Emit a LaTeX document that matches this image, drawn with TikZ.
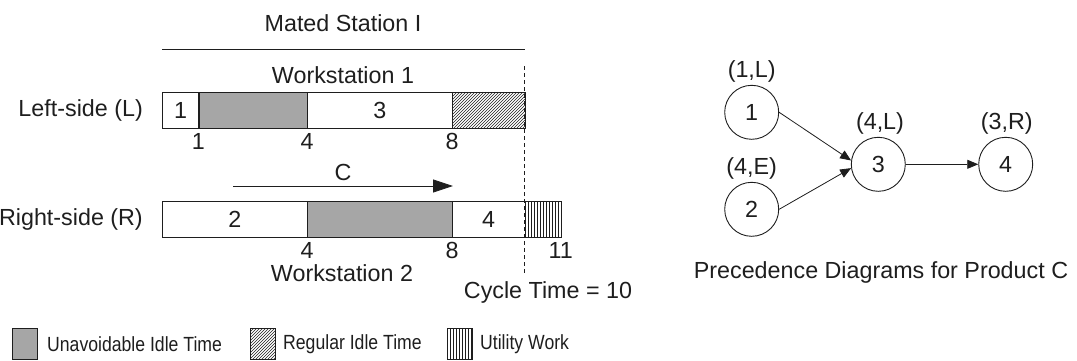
\documentclass[tikz,border=0pt]{standalone}
\usepackage{fontspec}
\setmainfont{Liberation Sans}
\newfontfamily\keyfont[FakeStretch=0.86]{Liberation Sans}
\usetikzlibrary{arrows.meta,patterns}
\definecolor{idlegray}{HTML}{A6A6A6}
\definecolor{ink}{HTML}{1E1E1E}
\begin{document}
\begin{tikzpicture}[x=1pt,y=-1pt,
  lbl/.style={inner sep=0pt, font=\fontsize{23.3}{27}\selectfont, text=ink},
  keylbl/.style={inner sep=0pt, anchor=west, font=\keyfont\fontsize{20.5}{24}\selectfont, text=ink},
  seg/.style={draw=ink, line width=0.8pt, inner sep=0pt, minimum height=36pt,
              anchor=north west, font=\fontsize{23.3}{27}\selectfont, text=ink},
  idle/.style={seg, fill=idlegray, line width=1.3pt},
  regidle/.style={seg, pattern=north east lines, pattern color=ink},
  utilwork/.style={seg, pattern=vertical lines, pattern color=ink},
  keybox/.style={draw=ink, line width=0.8pt, minimum width=25pt, minimum height=31pt,
                 inner sep=0pt, anchor=north west},
  task/.style={circle, draw=ink, line width=0.9pt, minimum size=54pt, inner sep=0pt,
               font=\fontsize{23.3}{27}\selectfont, text=ink},
  prec/.style={draw=ink, line width=0.8pt, -{Triangle[length=11pt,width=9pt]}},
]
\useasboundingbox (0,0) rectangle (1077,360);

% ---------- mated station header ----------
\node[lbl] (mated) at (343,23) {Mated Station I};
\coordinate (msL) at (162,49);
\coordinate (msR) at (524.5,49);
\draw[ink, line width=0.8pt] (msL) -- (msR);
\node[lbl] (ws1) at (343,75) {Workstation 1};

% ---------- left-side workstation ----------
\node[lbl, anchor=east] (left) at (143,110) {Left-side (L)};
\node[seg, minimum width=36.25pt] (l1) at (162,92) {1};
\node[seg, minimum width=145pt] (l3) at (307,92) {3};
\node[regidle, minimum width=72.5pt] (lreg) at (452,92) {};
\node[idle, minimum width=108.75pt] (lidle) at (198.25,92) {};
\node[lbl] (t1) at (198.25,141) {1};
\node[lbl] (t4) at (307,141) {4};
\node[lbl] (t8) at (452,141) {8};

% ---------- product flow arrow ----------
\node[lbl] (cLabel) at (343,172) {C};
\coordinate (cA) at (233,186);
\coordinate (cB) at (453,186);
\draw[ink, line width=0.8pt, -{Triangle[length=20pt,width=13pt]}] (cA) -- (cB);

% ---------- right-side workstation ----------
\node[lbl, anchor=east] (right) at (143,219) {Right-side (R)};
\node[seg, minimum width=145pt] (r2) at (162,201) {2};
\node[seg, minimum width=72.5pt] (r4) at (452,201) {4};
\node[utilwork, minimum width=36.25pt] (rutil) at (524.5,201) {};
\node[idle, minimum width=145pt] (ridle) at (307,201) {};
\node[lbl] (b4) at (307,250) {4};
\node[lbl] (b8) at (452,250) {8};
\node[lbl] (b11) at (560.75,250) {11};
\node[lbl] (ws2) at (342,273) {Workstation 2};

% ---------- cycle time ----------
\coordinate (ctTop) at (524.5,66);
\coordinate (ctBot) at (524.5,274);
\draw[ink, line width=0.8pt, dash pattern=on 4pt off 3pt] (ctTop) -- (ctBot);
\node[lbl] (ct) at (548,292) {Cycle Time = 10};

% ---------- precedence diagram ----------
\node[task] (c1) at (751.7,112.3) {1};
\node[task] (c2) at (751.7,209.3) {2};
\node[task] (c3) at (878.3,164.3) {3};
\node[task] (c4) at (1005.7,164.3) {4};
\node[lbl] (a1) at (751.7,71) {(1,L)};
\node[lbl] (a2) at (751.7,168) {(4,E)};
\node[lbl] (a3) at (880,123) {(4,L)};
\node[lbl] (a4) at (1006.7,123) {(3,R)};
\draw[prec] (c1.east) -- (c3.172);
\draw[prec] (c2.east) -- (c3.188);
\draw[prec] (c3.east) -- (c4.west);
\node[lbl] (pd) at (881,272) {Precedence Diagrams for Product C};

% ---------- legend ----------
\node[keybox, fill=idlegray] (k1) at (12,328) {};
\node[keylbl] (k1t) at (47,344) {Unavoidable Idle Time};
\node[keybox, pattern=north east lines, pattern color=ink] (k2) at (250,328) {};
\node[keylbl] (k2t) at (283,344) {Regular Idle Time};
\node[keybox, pattern=vertical lines, pattern color=ink] (k3) at (447,328) {};
\node[keylbl] (k3t) at (480,344) {Utility Work};
\end{tikzpicture}
\end{document}
